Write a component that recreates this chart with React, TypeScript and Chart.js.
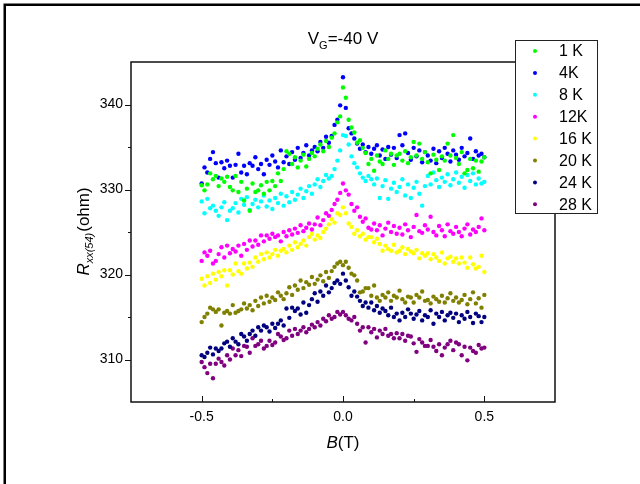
import React, { useEffect, useRef } from "react";
import { Chart, registerables } from "chart.js";

Chart.register(...registerables);

// Magnetic field B (T)
const FIELD_T = [
  -0.50, -0.49, -0.48, -0.47, -0.46, -0.45, -0.44, -0.43, -0.42, -0.41,
  -0.40, -0.39, -0.38, -0.37, -0.36, -0.35, -0.34, -0.33, -0.32, -0.31,
  -0.30, -0.29, -0.28, -0.27, -0.26, -0.25, -0.24, -0.23, -0.22, -0.21,
  -0.20, -0.19, -0.18, -0.17, -0.16, -0.15, -0.14, -0.13, -0.12, -0.11,
  -0.10, -0.09, -0.08, -0.07, -0.06, -0.05, -0.04, -0.03, -0.02, -0.01,
  0.00, 0.01, 0.02, 0.03, 0.04, 0.05, 0.06, 0.07, 0.08, 0.09,
  0.10, 0.11, 0.12, 0.13, 0.14, 0.15, 0.16, 0.17, 0.18, 0.19,
  0.20, 0.21, 0.22, 0.23, 0.24, 0.25, 0.26, 0.27, 0.28, 0.29,
  0.30, 0.31, 0.32, 0.33, 0.34, 0.35, 0.36, 0.37, 0.38, 0.39,
  0.40, 0.41, 0.42, 0.43, 0.44, 0.45, 0.46, 0.47, 0.48, 0.49,
  0.50,
];

const R_1K = [
  330.5, 329.9, 330.6, 331.9, 331.2, 331.6, 330.4, 331.3, 330.9, 331.5,
  330.3, 329.9, 331.6, 329.7, 330.9, 328.7, 330.1, 327.5, 330.7, 329.7,
  329.9, 330.5, 329.5, 330.9, 329.9, 331.0, 330.4, 331.9, 331.0, 332.4,
  334.5, 334.2, 333.0, 333.8, 332.6, 333.4, 334.1, 332.7, 333.6, 334.3,
  333.9, 334.8, 335.3, 334.5, 335.7, 335.0, 336.1, 336.6, 337.9, 338.6,
  342.0, 340.8, 338.2, 337.3, 336.7, 335.5, 335.8, 334.9, 334.3, 333.0,
  333.6, 332.2, 334.0, 333.3, 333.0, 334.6, 333.6, 334.2, 332.9, 334.0,
  334.2, 333.4, 334.5, 333.1, 333.8, 335.6, 334.0, 335.4, 333.6, 334.4,
  333.2, 331.9, 334.1, 333.5, 332.3, 333.9, 333.4, 335.4, 334.0, 336.4,
  333.7, 333.0, 334.4, 331.9, 332.3, 333.6, 332.5, 333.4, 332.1, 333.3,
  333.8,
];

const R_4K = [
  330.7, 332.6, 332.0, 333.6, 334.4, 333.1, 331.4, 333.2, 332.5, 333.4,
  332.8, 331.4, 332.9, 334.2, 332.0, 332.8, 331.8, 333.1, 332.8, 333.8,
  332.4, 333.0, 331.8, 333.5, 332.9, 334.0, 333.3, 332.6, 334.6, 333.2,
  333.9, 333.0, 334.4, 333.5, 334.9, 333.7, 334.3, 335.2, 334.0, 334.6,
  335.0, 334.5, 335.6, 334.9, 336.2, 335.5, 336.3, 337.6, 338.2, 339.9,
  343.2, 339.6, 337.2, 336.6, 336.0, 335.4, 334.8, 335.3, 334.4, 335.0,
  334.2, 334.8, 335.2, 334.0, 334.7, 333.6, 335.0, 334.1, 334.9, 333.7,
  336.4, 335.2, 336.6, 334.3, 333.5, 334.9, 333.9, 334.6, 333.2, 334.4,
  334.0, 333.4, 334.8, 333.1, 334.5, 333.7, 334.9, 334.2, 333.3, 334.6,
  334.1, 333.5, 334.9, 333.9, 334.3, 336.0, 333.6, 334.5, 334.0, 334.2,
  333.8,
];

const R_8K = [
  328.6, 327.2, 328.9, 327.8, 328.1, 327.5, 326.9, 327.9, 328.5, 326.4,
  327.5, 327.8, 328.4, 327.3, 328.9, 328.2, 329.1, 327.6, 328.3, 328.8,
  327.9, 328.6, 329.3, 328.0, 328.7, 327.7, 329.0, 328.4, 329.5, 328.1,
  329.2, 328.5, 329.7, 328.8, 329.4, 330.1, 329.0, 329.8, 330.4, 329.5,
  330.6, 331.2, 330.3, 331.0, 331.7, 331.3, 331.6, 332.4, 333.4, 334.6,
  336.4, 336.3, 335.3, 333.9, 333.1, 332.6, 331.9, 331.4, 331.0, 331.6,
  331.2, 330.6, 331.3, 329.0, 330.4, 331.1, 328.9, 330.1, 330.8, 329.7,
  330.3, 331.2, 329.3, 330.6, 329.0, 330.2, 330.9, 329.5, 328.1, 330.4,
  331.6, 330.6, 332.0, 331.1, 330.3, 331.4, 330.9, 331.8, 330.5, 331.2,
  332.0, 330.8, 331.5, 330.2, 331.7, 331.0, 331.9, 330.6, 331.3, 330.7,
  330.9,
];

const R_12K = [
  321.6, 322.6, 322.2, 322.8, 321.3, 321.6, 322.4, 323.2, 322.0, 323.4,
  322.5, 323.0, 322.7, 323.4, 322.2, 323.6, 322.9, 324.0, 323.3, 324.0,
  323.5, 324.6, 323.9, 324.6, 324.2, 324.8, 324.4, 324.6, 323.9, 325.0,
  324.5, 325.2, 324.7, 325.4, 324.9, 325.8, 325.1, 325.5, 326.0, 325.3,
  325.9, 326.7, 325.8, 326.4, 327.2, 326.9, 327.6, 328.3, 328.8, 329.6,
  330.7, 329.9, 329.4, 328.3, 327.5, 327.9, 326.8, 326.2, 326.6, 325.5,
  325.3, 326.0, 325.2, 325.8, 324.6, 325.4, 326.1, 325.0, 325.7, 324.8,
  325.5, 324.7, 325.9, 325.2, 324.4, 325.6, 327.0, 325.1, 324.9, 325.8,
  325.3, 326.8, 325.0, 324.6, 325.7, 325.2, 324.5, 325.9, 325.1, 324.8,
  325.6, 325.0, 324.5, 325.4, 325.9, 324.7, 325.3, 325.0, 325.6, 326.6,
  325.2,
];

const R_16K = [
  319.5, 318.7, 319.8, 319.0, 320.1, 319.4, 320.3, 319.8, 320.5, 318.7,
  320.5, 320.0, 321.3, 320.4, 320.1, 321.3, 320.7, 321.4, 320.9, 322.0,
  321.5, 322.4, 321.8, 322.6, 322.0, 322.4, 322.9, 322.2, 322.8, 323.0,
  322.6, 323.4, 322.9, 323.8, 323.2, 323.6, 324.0, 323.4, 324.4, 324.8,
  324.1, 324.6, 324.3, 325.0, 325.4, 325.9, 326.5, 326.1, 327.2, 327.0,
  327.9, 327.2, 326.0, 325.6, 324.8, 325.2, 324.5, 324.8, 324.1, 324.4,
  324.4, 323.8, 324.2, 323.6, 322.8, 323.4, 323.0, 322.8, 323.5, 322.6,
  322.8, 323.2, 322.4, 323.0, 322.7, 322.5, 322.9, 321.9, 322.5, 322.2,
  322.5, 321.8, 322.4, 322.0, 321.6, 322.6, 321.3, 321.9, 322.1, 321.5,
  321.9, 321.3, 322.0, 321.4, 320.8, 322.0, 321.2, 320.7, 320.9, 322.2,
  320.3,
];

const R_20K = [
  314.4, 315.0, 315.4, 316.1, 315.9, 315.6, 315.9, 314.0, 315.5, 315.7,
  315.4, 316.4, 315.5, 315.7, 315.9, 316.6, 316.0, 316.4, 315.8, 316.9,
  316.3, 317.3, 316.6, 317.5, 316.8, 317.3, 317.0, 317.9, 317.5, 317.1,
  317.8, 318.5, 317.6, 318.7, 318.2, 319.3, 318.4, 319.1, 318.8, 319.7,
  318.9, 319.4, 319.9, 319.2, 320.3, 319.6, 320.4, 320.9, 321.3, 321.5,
  321.1, 321.5, 320.8, 320.1, 319.9, 319.3, 317.9, 318.0, 318.4, 318.4,
  317.5, 318.7, 317.3, 316.9, 317.6, 317.3, 317.9, 316.9, 317.5, 317.3,
  318.1, 317.1, 316.7, 317.4, 317.3, 316.7, 317.6, 317.3, 318.0, 316.9,
  317.0, 316.6, 317.4, 317.1, 316.8, 317.5, 316.7, 317.2, 317.8, 316.9,
  317.3, 316.7, 317.0, 317.6, 316.5, 317.1, 317.9, 316.6, 317.2, 316.1,
  317.6,
];

const R_24K = [
  310.5, 310.3, 310.8, 311.4, 310.6, 311.3, 311.0, 311.3, 311.9, 312.1,
  311.5, 312.5, 312.1, 311.8, 313.0, 312.7, 312.2, 313.0, 313.4, 312.8,
  313.8, 313.4, 314.0, 313.8, 313.3, 314.2, 313.7, 314.2, 314.6, 314.0,
  316.0, 314.9, 316.1, 315.7, 316.0, 315.3, 316.7, 315.5, 316.4, 317.1,
  317.8, 316.8, 318.0, 317.5, 318.7, 317.9, 318.4, 319.0, 319.3, 318.9,
  320.1, 319.3, 318.5, 317.5, 318.0, 317.4, 316.9, 316.3, 316.7, 316.1,
  316.7, 315.8, 316.3, 315.5, 316.0, 315.7, 315.2, 316.1, 315.0, 315.4,
  314.6, 315.5, 315.0, 315.9, 315.4, 314.8, 315.3, 315.7, 314.6, 315.2,
  315.0, 315.8, 314.2, 315.4, 315.0, 315.6, 314.6, 315.2, 315.5, 314.9,
  315.4, 314.4, 315.2, 314.8, 315.6, 315.0, 314.3, 315.4, 315.1, 314.4,
  315.0,
];

const R_28K = [
  309.7, 309.1, 308.4, 309.5, 307.8, 309.5, 310.1, 309.7, 309.3, 310.5,
  310.0, 311.3, 310.5, 311.1, 310.4, 311.6, 311.5, 310.8, 312.5, 311.6,
  311.8, 312.2, 311.3, 311.6, 312.2, 311.7, 312.0, 313.0, 312.7, 312.3,
  312.5, 313.4, 312.8, 313.6, 313.0, 313.4, 313.8, 313.2, 313.6, 314.1,
  313.8, 314.4, 314.0, 314.8, 314.5, 315.2, 314.8, 315.0, 315.6, 315.3,
  315.6, 315.2, 314.8, 314.6, 315.0, 314.2, 313.4, 313.8, 312.0, 313.8,
  313.2, 313.6, 312.6, 313.4, 313.0, 313.6, 312.8, 313.0, 312.5, 313.1,
  312.5, 313.0, 312.2, 312.8, 312.7, 311.9, 310.9, 312.4, 312.0, 311.6,
  311.6, 312.3, 311.5, 311.0, 311.8, 310.5, 311.4, 311.8, 312.2, 311.1,
  312.0, 311.8, 310.5, 311.5, 309.9, 311.4, 311.0, 310.8, 311.7, 311.3,
  311.4,
];

const SERIES_VALUES = [R_1K, R_4K, R_8K, R_12K, R_16K, R_20K, R_24K, R_28K];
const SERIES_LABELS = ["1 K", "4K", "8 K", "12K", "16 K", "20 K", "24 K", "28 K"];
const SERIES_COLORS = ["#00ff00", "#0000ff", "#00ffff", "#ff00ff", "#ffff00", "#808000", "#000080", "#800080"];

const Y_MAJOR_TICKS = [310, 320, 330, 340];
const Y_MINOR_TICKS = [315, 325, 335];
const X_MAJOR_TICKS = [-0.5, 0, 0.5];
const X_MINOR_TICKS = [-0.25, 0.25];

const FONT = "'Liberation Sans', Arial, sans-serif";

const decorPlugin = {
  id: "decor",
  afterDraw(chart: any) {
    const { ctx, chartArea: a, scales } = chart;
    const xs = scales.x;
    const ys = scales.y;
    ctx.save();

    // outer figure frame (left & top edges)
    ctx.strokeStyle = "#000";
    ctx.lineWidth = 2.5;
    ctx.beginPath();
    ctx.moveTo(4.75, 484);
    ctx.lineTo(4.75, 4.75);
    ctx.lineTo(640, 4.75);
    ctx.stroke();

    // plot frame
    ctx.lineWidth = 1.5;
    ctx.strokeStyle = "#111";
    ctx.strokeRect(a.left, a.top, a.right - a.left, a.bottom - a.top);

    // ticks
    ctx.lineWidth = 1;
    ctx.beginPath();
    for (const v of Y_MAJOR_TICKS) {
      const y = Math.round(ys.getPixelForValue(v)) + 0.5;
      ctx.moveTo(a.left - 6, y);
      ctx.lineTo(a.left, y);
    }
    for (const v of Y_MINOR_TICKS) {
      const y = Math.round(ys.getPixelForValue(v)) + 0.5;
      ctx.moveTo(a.left - 3, y);
      ctx.lineTo(a.left, y);
    }
    for (const v of X_MAJOR_TICKS) {
      const x = Math.round(xs.getPixelForValue(v)) + 0.5;
      ctx.moveTo(x, a.bottom);
      ctx.lineTo(x, a.bottom - 6);
    }
    for (const v of X_MINOR_TICKS) {
      const x = Math.round(xs.getPixelForValue(v)) + 0.5;
      ctx.moveTo(x, a.bottom);
      ctx.lineTo(x, a.bottom - 3);
    }
    ctx.stroke();

    ctx.fillStyle = "#000";
    ctx.textBaseline = "alphabetic";
    ctx.textAlign = "left";

    // chart title: V_G=-40 V
    const cx = (a.left + a.right) / 2;
    {
      const big = `17px ${FONT}`;
      const small = `11px ${FONT}`;
      ctx.font = big;
      const w1 = ctx.measureText("V").width;
      const w3 = ctx.measureText("=-40 V").width;
      ctx.font = small;
      const w2 = ctx.measureText("G").width;
      let x = cx - (w1 + w2 + w3) / 2;
      const base = 44;
      ctx.font = big;
      ctx.fillText("V", x, base);
      x += w1;
      ctx.font = small;
      ctx.fillText("G", x, base + 5);
      x += w2;
      ctx.font = big;
      ctx.fillText("=-40 V", x, base);
    }

    // x-axis title: B(T)
    {
      const it = `italic 17px ${FONT}`;
      const rg = `17px ${FONT}`;
      ctx.font = it;
      const w1 = ctx.measureText("B").width;
      ctx.font = rg;
      const w2 = ctx.measureText("(T)").width;
      let x = cx - (w1 + w2) / 2;
      const base = 448;
      ctx.font = it;
      ctx.fillText("B", x, base);
      x += w1;
      ctx.font = rg;
      ctx.fillText("(T)", x, base);
    }

    // y-axis title: R_xx(54)(ohm)
    {
      const cy = (a.top + a.bottom) / 2;
      ctx.save();
      ctx.translate(89, cy);
      ctx.rotate(-Math.PI / 2);
      const it = `italic 17px ${FONT}`;
      const sub = `italic 11px ${FONT}`;
      const rg = `17px ${FONT}`;
      ctx.font = it;
      const w1 = ctx.measureText("R").width;
      ctx.font = sub;
      const w2 = ctx.measureText("xx(54)").width;
      ctx.font = rg;
      const w3 = ctx.measureText("(ohm)").width;
      let x = -(w1 + w2 + w3) / 2;
      ctx.font = it;
      ctx.fillText("R", x, 0);
      x += w1;
      ctx.font = sub;
      ctx.fillText("xx(54)", x, 4);
      x += w2 + 1;
      ctx.font = rg;
      ctx.fillText("(ohm)", x, 0);
      ctx.restore();
    }

    // legend box
    {
      const lx = 515.5, ly = 40.5, lw = 82, lh = 173;
      ctx.fillStyle = "#fff";
      ctx.fillRect(lx, ly, lw, lh);
      ctx.strokeStyle = "#222";
      ctx.lineWidth = 1;
      ctx.strokeRect(lx, ly, lw, lh);
      ctx.font = `16px ${FONT}`;
      ctx.textBaseline = "middle";
      SERIES_LABELS.forEach((lab, i) => {
        const y = 51 + i * 21.9;
        ctx.fillStyle = SERIES_COLORS[i];
        ctx.beginPath();
        ctx.arc(535, y, 2, 0, Math.PI * 2);
        ctx.fill();
        ctx.fillStyle = "#000";
        ctx.fillText(lab, 559, y + 1);
      });
    }

    ctx.restore();
  },
};

export default function App() {
  const ref = useRef<HTMLCanvasElement | null>(null);

  useEffect(() => {
    document.body.style.margin = "0";
    const canvas = ref.current;
    if (!canvas) return;
    const datasets = SERIES_VALUES.map((vals, si) => ({
      label: SERIES_LABELS[si],
      data: FIELD_T.map((b, i) => ({ x: b, y: vals[i] })),
      backgroundColor: SERIES_COLORS[si],
      borderColor: SERIES_COLORS[si],
      borderWidth: 0,
      pointRadius: 2.2,
      pointHoverRadius: 2.2,
      showLine: false,
    }));
    const chart = new Chart(canvas, {
      type: "scatter",
      data: { datasets },
      options: {
        animation: false,
        responsive: false,
        devicePixelRatio: 1,
        layout: { padding: { left: 81, right: 85, top: 62, bottom: 42 } },
        plugins: {
          legend: { display: false },
          tooltip: { enabled: false },
          title: { display: false },
        },
        scales: {
          x: {
            type: "linear",
            min: -0.75,
            max: 0.75,
            afterBuildTicks: (s: any) => {
              s.ticks = X_MAJOR_TICKS.map((v) => ({ value: v }));
            },
            afterFit: (s: any) => {
              s.height = 40;
            },
            ticks: {
              autoSkip: false,
              maxRotation: 0,
              padding: 7,
              color: "#000",
              font: { family: FONT, size: 14 },
              callback: (v: any) => Number(v).toFixed(1),
            },
            grid: { display: false, drawTicks: false },
            border: { display: false },
          },
          y: {
            type: "linear",
            min: 305,
            max: 345,
            afterBuildTicks: (s: any) => {
              s.ticks = Y_MAJOR_TICKS.map((v) => ({ value: v }));
            },
            afterFit: (s: any) => {
              s.width = 50;
            },
            ticks: {
              autoSkip: false,
              padding: 8,
              color: "#000",
              font: { family: FONT, size: 14 },
              callback: (v: any) => String(v),
            },
            grid: { display: false, drawTicks: false },
            border: { display: false },
          },
        },
      },
      plugins: [decorPlugin],
    });
    return () => chart.destroy();
  }, []);

  return (
    <div style={{ position: "absolute", left: 0, top: 0, width: 640, height: 484, background: "#fff" }}>
      <canvas ref={ref} width={640} height={484} style={{ display: "block" }} />
    </div>
  );
}
